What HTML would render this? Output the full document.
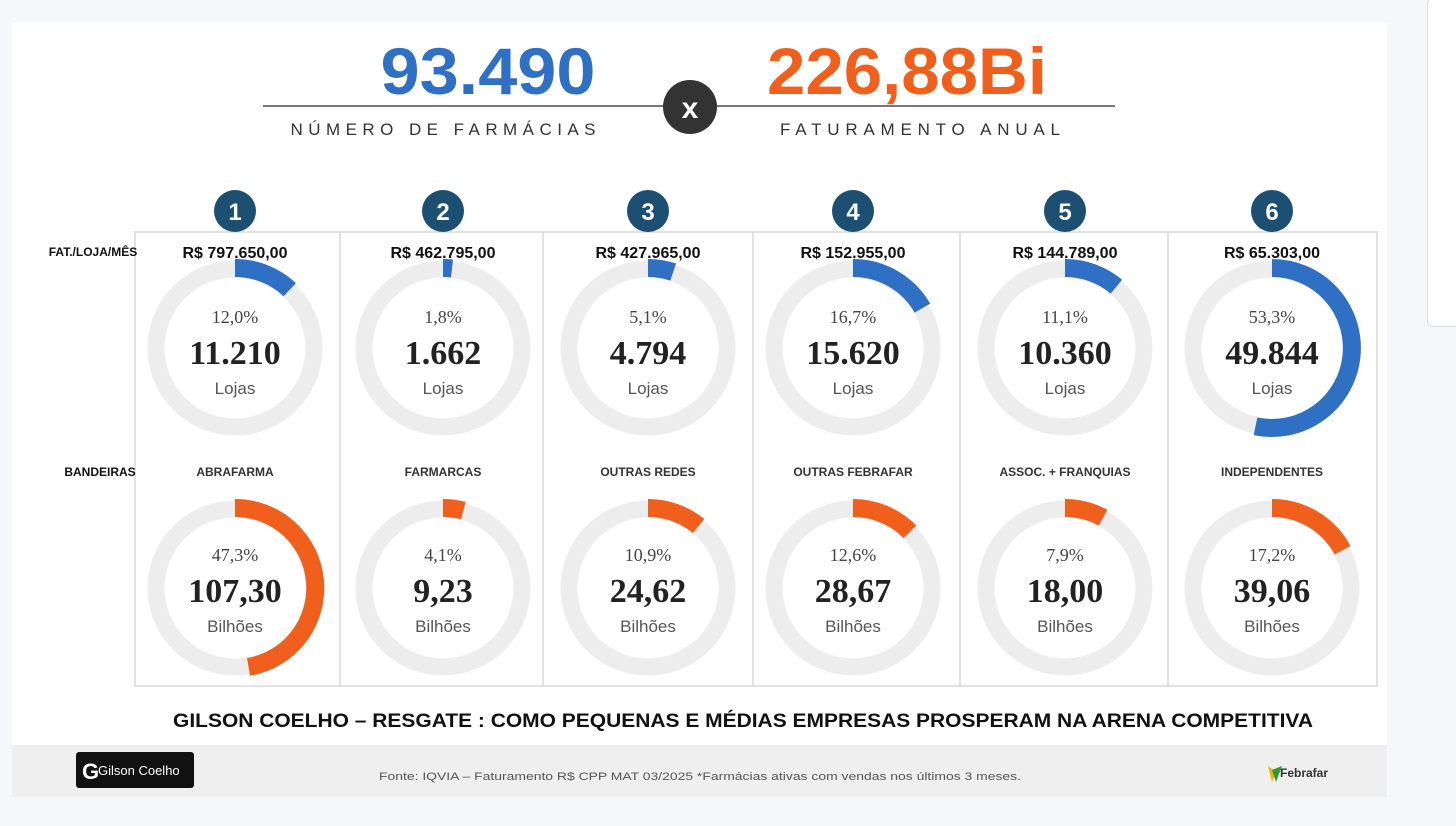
<!DOCTYPE html>
<html><head><meta charset="utf-8">
<style>
body{margin:0;width:1456px;height:826px;background:#f6f7fb;overflow:hidden;font-family:"Liberation Sans",sans-serif;position:relative}
.slide{position:absolute;left:12px;top:22px;width:1375px;height:723px;background:#fff}
.foot{position:absolute;left:12px;top:745px;width:1375px;height:52px;background:#efefef}
.side{position:absolute;left:1427px;top:-2px;width:40px;height:327px;background:#fff;border:1px solid #ddd;border-radius:6px}
svg{position:absolute;left:0;top:0}
</style></head><body>
<div class="slide"></div>
<div class="foot"></div>
<div class="side"></div>
<svg width="1456" height="826" viewBox="0 0 1456 826">
<g font-family="Liberation Sans, sans-serif">
<text x="488" y="94" text-anchor="middle" font-size="66" font-weight="bold" fill="#2f6fc4" textLength="215" lengthAdjust="spacingAndGlyphs">93.490</text>
<text x="907" y="94" text-anchor="middle" font-size="66" font-weight="bold" fill="#f0601c" textLength="280" lengthAdjust="spacingAndGlyphs">226,88Bi</text>
<line x1="263" y1="106" x2="1115" y2="106" stroke="#777" stroke-width="2"/>
<circle cx="690" cy="107" r="27" fill="#333"/>
<text x="690" y="118" text-anchor="middle" font-size="30" font-weight="bold" fill="#fff">x</text>
<text x="443" y="135" text-anchor="middle" font-size="17" fill="#333" textLength="305" lengthAdjust="spacing">NÚMERO DE FARMÁCIAS</text>
<text x="920" y="135" text-anchor="middle" font-size="17" fill="#333" textLength="280" lengthAdjust="spacing">FATURAMENTO ANUAL</text>
<rect x="135" y="232" width="1242" height="454" fill="none" stroke="#d8d8d8" stroke-width="1.5"/>
<g stroke="#d8d8d8" stroke-width="1.5">
<line x1="340" y1="232" x2="340" y2="686"/><line x1="543" y1="232" x2="543" y2="686"/>
<line x1="753" y1="232" x2="753" y2="686"/><line x1="960" y1="232" x2="960" y2="686"/>
<line x1="1168" y1="232" x2="1168" y2="686"/></g>
<text x="93" y="256" text-anchor="middle" font-size="12" font-weight="bold" fill="#111">FAT./LOJA/MÊS</text>
<text x="100" y="476" text-anchor="middle" font-size="12" font-weight="bold" fill="#111">BANDEIRAS</text>
<text x="743" y="727" text-anchor="middle" font-size="19" font-weight="bold" fill="#111" textLength="1140" lengthAdjust="spacingAndGlyphs">GILSON COELHO – RESGATE : COMO PEQUENAS E MÉDIAS EMPRESAS PROSPERAM NA ARENA COMPETITIVA</text>
<text x="700" y="780" text-anchor="middle" font-size="11" fill="#555" textLength="642" lengthAdjust="spacingAndGlyphs">Fonte: IQVIA – Faturamento R$ CPP    MAT 03/2025 *Farmácias ativas com vendas nos últimos 3 meses.</text>
<rect x="76" y="752" width="118" height="36" rx="3" fill="#111"/>
<text x="98" y="775" font-size="13" fill="#fff">Gilson Coelho</text>
<text x="82" y="779" font-size="22" font-weight="bold" fill="#fff">G</text>
<path d="M1268 766 l8 6 l-4 10 z" fill="#f2b400"/><path d="M1272 770 l10 -4 l-6 16 z" fill="#2a9a3a"/>
<text x="1280" y="777" font-size="12" font-weight="bold" fill="#333">Febrafar</text>
</g>
<g id="cols"></g>
</svg>
<script>
const d=[[235,"R$ 797.650,00",12.0,"11.210","ABRAFARMA",47.3,"107,30"],
[443,"R$ 462.795,00",1.8,"1.662","FARMARCAS",4.1,"9,23"],
[648,"R$ 427.965,00",5.1,"4.794","OUTRAS REDES",10.9,"24,62"],
[853,"R$ 152.955,00",16.7,"15.620","OUTRAS FEBRAFAR",12.6,"28,67"],
[1065,"R$ 144.789,00",11.1,"10.360","ASSOC. + FRANQUIAS",7.9,"18,00"],
[1272,"R$ 65.303,00",53.3,"49.844","INDEPENDENTES",17.2,"39,06"]];
function arc(cx,cy,r,p){const a=p/100*2*Math.PI;const x=cx+r*Math.sin(a),y=cy-r*Math.cos(a);return `M${cx} ${cy-r} A${r} ${r} 0 ${p>50?1:0} 1 ${x.toFixed(1)} ${y.toFixed(1)}`}
let s="";const F='font-family="Liberation Sans, sans-serif"',S='font-family="Liberation Serif, serif"';
d.forEach((c,i)=>{const x=c[0];
s+=`<circle cx="${x}" cy="211" r="21" fill="#1d4f72"/><text x="${x}" y="220" text-anchor="middle" ${F} font-size="24" font-weight="bold" fill="#fff">${i+1}</text>`;
[[348,c[2],"#2f6fc4",c[3],"Lojas",317],[588,c[5],"#f0601c",c[6],"Bilhões",555]].forEach(g=>{const cy=g[0],ty=g[5];
s+=`<circle cx="${x}" cy="${cy}" r="79" fill="none" stroke="#ededed" stroke-width="17"/>`;
s+=`<path d="${arc(x,cy,80,g[1])}" fill="none" stroke="${g[2]}" stroke-width="18"/>`;
s+=`<text x="${x}" y="${ty+6}" text-anchor="middle" ${S} font-size="18" fill="#444">${g[1].toFixed(1).replace('.',',')}%</text>`;
s+=`<text x="${x}" y="${ty+47}" text-anchor="middle" ${S} font-size="34" font-weight="bold" fill="#222">${g[3]}</text>`;
s+=`<text x="${x}" y="${ty+77}" text-anchor="middle" ${F} font-size="17" fill="#555">${g[4]}</text>`;});
s+=`<text x="${x}" y="258" text-anchor="middle" ${F} font-size="16" font-weight="bold" fill="#111" stroke="#fff" stroke-width="0" >${c[1]}</text>`;
s+=`<text x="${x}" y="476" text-anchor="middle" ${F} font-size="12" font-weight="bold" fill="#333">${c[4]}</text>`;});
document.getElementById("cols").innerHTML=s;
</script>
</body></html>
